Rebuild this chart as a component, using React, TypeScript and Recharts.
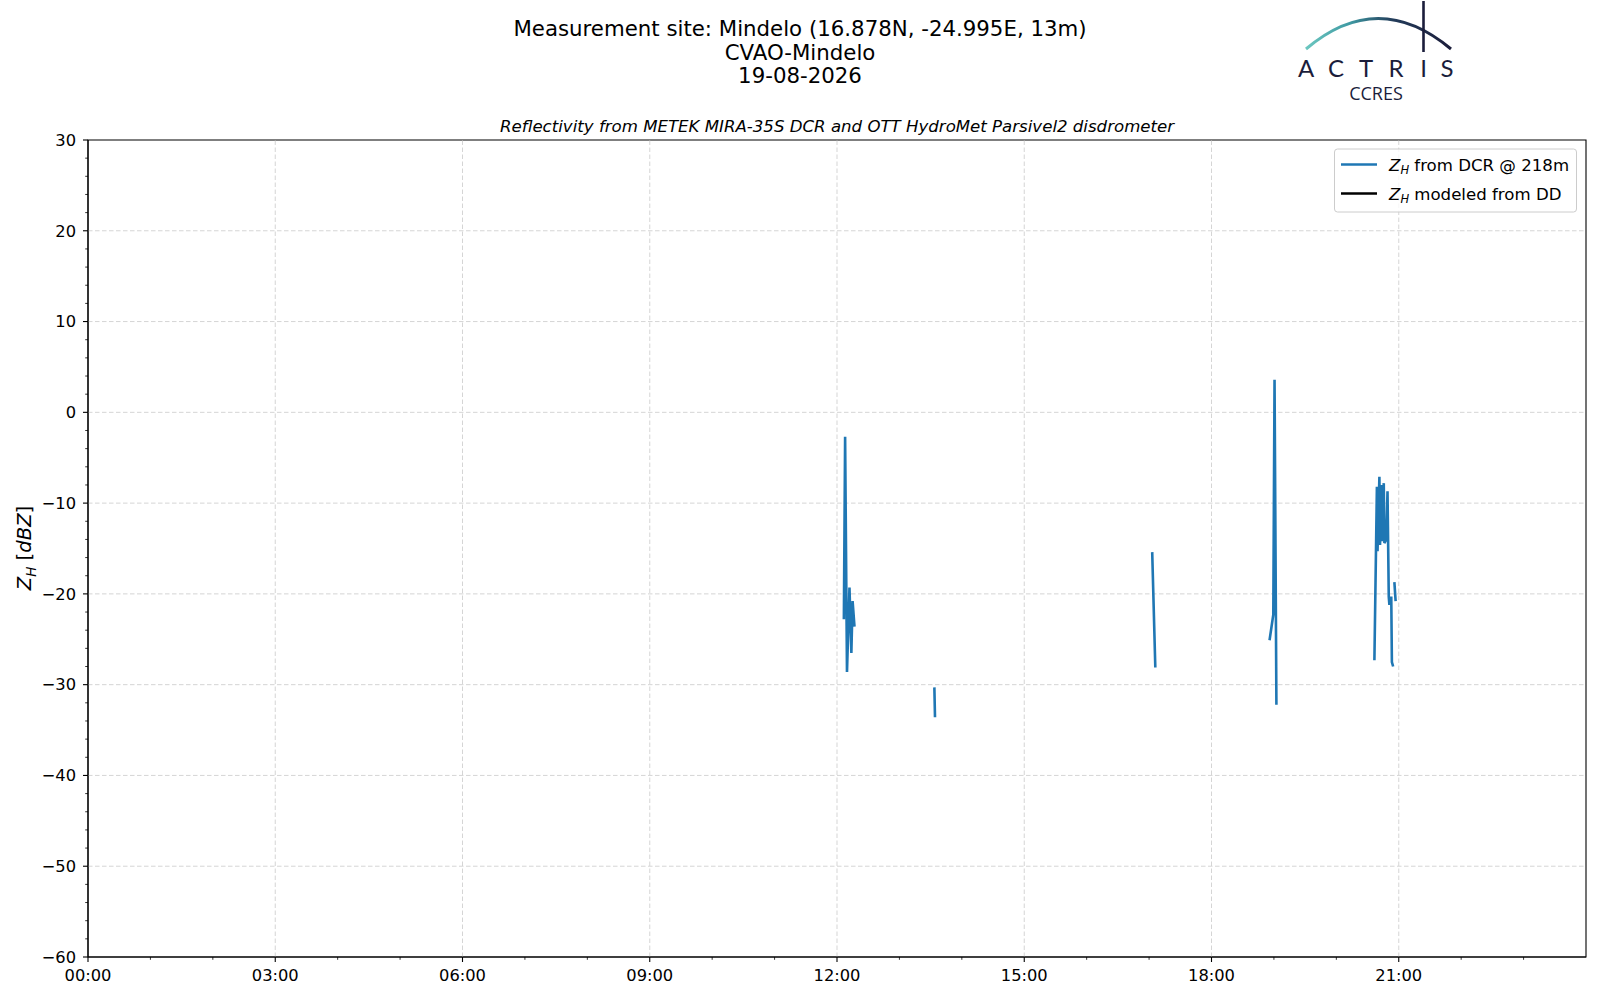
import React from 'react';
import { LineChart, Line, XAxis, YAxis, ReferenceLine, ReferenceArea } from 'recharts';

// ---- data (hours UTC, reflectivity dBZ) ----
const burst1Hours = [12.11, 12.13, 12.16, 12.2, 12.23, 12.25, 12.28];
const burst1Dbz = [-22.8, -2.7, -28.6, -19.3, -26.5, -20.8, -23.6];
const burst2Hours = [13.56, 13.57];
const burst2Dbz = [-30.3, -33.6];
const burst3Hours = [17.05, 17.1];
const burst3Dbz = [-15.4, -28.1];
const burst4Hours = [18.93, 18.99, 19.01, 19.04];
const burst4Dbz = [-25.1, -22.3, 3.6, -32.2];
const burst5Hours = [20.61, 20.65, 20.66, 20.69, 20.7, 20.72, 20.73, 20.76, 20.77, 20.8, 20.82, 20.84, 20.85, 20.88, 20.89, 20.91];
const burst5Dbz = [-27.3, -8.2, -15.3, -7.1, -14.6, -8.0, -14.2, -7.8, -14.4, -14.0, -8.7, -20.3, -21.2, -20.3, -27.5, -28.0];
const burst6Hours = [20.93, 20.95];
const burst6Dbz = [-18.7, -20.8];

const ddHours: number[] = [];
const ddDbz: number[] = [];

// ---- ticks ----
const xTicks = [0, 1, 2, 3, 4, 5, 6, 7, 8, 9, 10, 11, 12, 13, 14, 15, 16, 17, 18, 19, 20, 21, 22, 23];
const xMajor = [0, 3, 6, 9, 12, 15, 18, 21];
const yTicks = [-60, -58, -56, -54, -52, -50, -48, -46, -44, -42, -40, -38, -36, -34, -32, -30, -28, -26, -24, -22, -20, -18, -16, -14, -12, -10, -8, -6, -4, -2, 0, 2, 4, 6, 8, 10, 12, 14, 16, 18, 20, 22, 24, 26, 28, 30];
const yMajor = [-60, -50, -40, -30, -20, -10, 0, 10, 20, 30];

const bursts = [
  [burst1Hours, burst1Dbz],
  [burst2Hours, burst2Dbz],
  [burst3Hours, burst3Dbz],
  [burst4Hours, burst4Dbz],
  [burst5Hours, burst5Dbz],
  [burst6Hours, burst6Dbz],
];

const dcrData: { t: number; z: number | null }[] = [];
bursts.forEach(([hs, zs], i) => {
  if (i > 0) {
    const prev = bursts[i - 1][0];
    dcrData.push({ t: (prev[prev.length - 1] + hs[0]) / 2, z: null });
  }
  hs.forEach((h, j) => dcrData.push({ t: h, z: zs[j] }));
});
const ddData = ddHours.map((h, i) => ({ t: h, z: ddDbz[i] }));

const FONT = '"DejaVu Sans", sans-serif';
const BLUE = '#1f77b4';
const NAVY = '#1b1d3b';

const XTick = (props: any) => {
  const { x, y, payload } = props;
  const v = payload.value;
  const major = xMajor.includes(v);
  const label = `${String(v % 24).padStart(2, '0')}:00`;
  return (
    <g>
      <line x1={x} x2={x} y1={y} y2={y + (major ? 5 : 2.8)} stroke="#000" strokeWidth={major ? 1.1 : 0.8} />
      {major && (
        <text x={x} y={y + 23.5} textAnchor="middle" fontSize={16.3} fontFamily={FONT} fill="#000">
          {label}
        </text>
      )}
    </g>
  );
};

const YTick = (props: any) => {
  const { x, y, payload } = props;
  const v = payload.value;
  const major = yMajor.includes(v);
  const label = v < 0 ? `\u2212${Math.abs(v)}` : `${v}`;
  return (
    <g>
      <line x1={x} x2={x - (major ? 5 : 2.8)} y1={y} y2={y} stroke="#000" strokeWidth={major ? 1.1 : 0.8} />
      {major && (
        <text x={x - 12} y={y + 5.8} textAnchor="end" fontSize={16.3} fontFamily={FONT} fill="#000">
          {label}
        </text>
      )}
    </g>
  );
};

export default function App() {
  return (
    <div style={{ position: 'absolute', left: 0, top: 0, width: 1600, height: 1000, background: '#fff', fontFamily: FONT }}>
      <LineChart width={1600} height={1000} margin={{ top: 140, right: 14, bottom: 13, left: 28 }}>
        <XAxis
          type="number"
          dataKey="t"
          domain={[0, 24]}
          ticks={xTicks}
          interval={0}
          allowDataOverflow
          height={30}
          tickLine={false}
          tickSize={0}
          tickMargin={0}
          tick={<XTick />}
          axisLine={{ stroke: '#000', strokeWidth: 1.1 }}
        />
        <YAxis
          type="number"
          dataKey="z"
          domain={[-60, 30]}
          ticks={yTicks}
          interval={0}
          allowDataOverflow
          width={60}
          tickLine={false}
          tickSize={0}
          tickMargin={0}
          tick={<YTick />}
          axisLine={{ stroke: '#000', strokeWidth: 1.1 }}
        />
        {xMajor.filter((h) => h > 0).map((h) => (
          <ReferenceLine key={`vx${h}`} x={h} stroke="#d0d0d0" strokeWidth={0.9} strokeDasharray="4.5 2.5" />
        ))}
        {yMajor.filter((v) => v > -60 && v < 30).map((v) => (
          <ReferenceLine key={`hy${v}`} y={v} stroke="#d0d0d0" strokeWidth={0.9} strokeDasharray="4.5 2.5" />
        ))}
        <Line
          data={dcrData}
          dataKey="z"
          type="linear"
          stroke={BLUE}
          strokeWidth={2.6}
          dot={false}
          connectNulls={false}
          isAnimationActive={false}
        />
        <Line
          data={ddData}
          dataKey="z"
          type="linear"
          stroke="#000"
          strokeWidth={2.6}
          dot={false}
          connectNulls={false}
          isAnimationActive={false}
        />
        <ReferenceArea x1={0} x2={24} y1={-60} y2={30} fill="none" fillOpacity={0} stroke="#000" strokeWidth={1.1} ifOverflow="visible" />
      </LineChart>

      <svg width={1600} height={1000} style={{ position: 'absolute', left: 0, top: 0, pointerEvents: 'none' }}>
        <defs>
          <linearGradient id="arcg" x1="1306" y1="0" x2="1451" y2="0" gradientUnits="userSpaceOnUse">
            <stop offset="0" stopColor="#6cc7c0" />
            <stop offset="0.3" stopColor="#3f9aa3" />
            <stop offset="0.6" stopColor="#233c5a" />
            <stop offset="1" stopColor={NAVY} />
          </linearGradient>
        </defs>
        {/* titles */}
        <text x={800} y={36} textAnchor="middle" fontSize={21.3} fontFamily={FONT} fill="#000">
          Measurement site: Mindelo (16.878N, -24.995E, 13m)
        </text>
        <text x={800} y={59.5} textAnchor="middle" fontSize={21.3} fontFamily={FONT} fill="#000">
          CVAO-Mindelo
        </text>
        <text x={800} y={83} textAnchor="middle" fontSize={21.3} fontFamily={FONT} fill="#000">
          19-08-2026
        </text>
        <text x={837} y={131.5} textAnchor="middle" fontSize={16.6} fontStyle="italic" fontFamily={FONT} fill="#000">
          Reflectivity from METEK MIRA-35S DCR and OTT HydroMet Parsivel2 disdrometer
        </text>

        {/* y label */}
        <text transform="translate(31,548) rotate(-90)" textAnchor="middle" fontSize={19.6} fontFamily={FONT} fill="#000">
          <tspan fontStyle="italic">Z</tspan>
          <tspan fontStyle="italic" fontSize={13.5} dy={4.5}>H</tspan>
          <tspan dy={-4.5}> [</tspan>
          <tspan fontStyle="italic">dBZ</tspan>
          <tspan>]</tspan>
        </text>

        {/* legend */}
        <rect x={1334.5} y={149} width={242} height={63} rx={3} fill="#fff" fillOpacity={0.8} stroke="#cccccc" strokeWidth={1} />
        <line x1={1341} x2={1377} y1={164.5} y2={164.5} stroke={BLUE} strokeWidth={2.6} />
        <line x1={1341} x2={1377} y1={193.5} y2={193.5} stroke="#000" strokeWidth={2.6} />
        <text x={1389} y={170.5} fontSize={16.6} fontFamily={FONT} fill="#000">
          <tspan fontStyle="italic">Z</tspan>
          <tspan fontStyle="italic" fontSize={11.5} dy={3.5}>H</tspan>
          <tspan dy={-3.5}> from DCR @ 218m</tspan>
        </text>
        <text x={1389} y={199.5} fontSize={16.6} fontFamily={FONT} fill="#000">
          <tspan fontStyle="italic">Z</tspan>
          <tspan fontStyle="italic" fontSize={11.5} dy={3.5}>H</tspan>
          <tspan dy={-3.5}> modeled from DD</tspan>
        </text>

        {/* ACTRIS logo */}
        <path d="M1306,49 Q1378,-12 1451,49" fill="none" stroke="url(#arcg)" strokeWidth={3} />
        <line x1={1423.5} x2={1423.5} y1={1} y2={52} stroke={NAVY} strokeWidth={2.6} />
        {[
          ['A', 1306],
          ['C', 1336],
          ['T', 1366],
          ['R', 1396],
          ['I', 1423.5],
          ['S', 1447],
        ].map(([ch, cx]) => (
          <text key={ch as string} x={cx as number} y={77} textAnchor="middle" fontSize={24} fontFamily="Lato, 'Open Sans', sans-serif" fill={NAVY}>
            {ch}
          </text>
        ))}
        <text x={1376} y={100} textAnchor="middle" fontSize={18} fontFamily="'Open Sans', Lato, sans-serif" fill={NAVY}>
          CCRES
        </text>
      </svg>
    </div>
  );
}
